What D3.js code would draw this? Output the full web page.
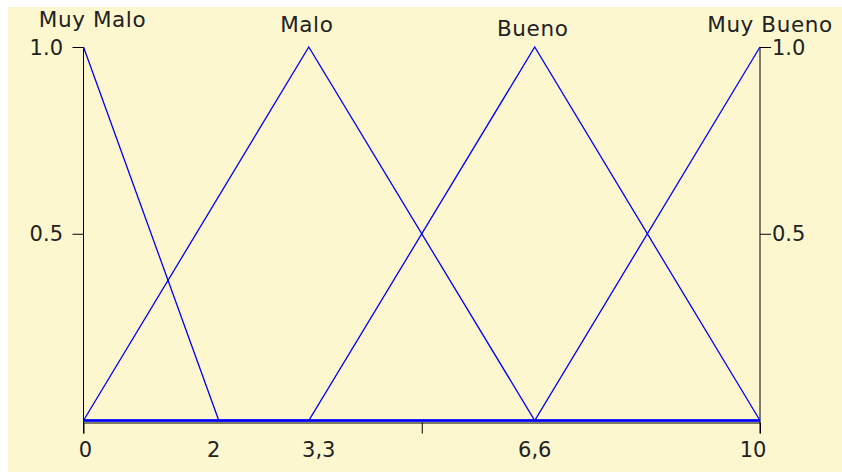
<!DOCTYPE html>
<html>
<head>
<meta charset="utf-8">
<script src="https://cdn.jsdelivr.net/npm/d3@7"></script>
<style>
  body { margin: 0; background: #fff; }
  svg text { font-family: "DejaVu Sans", sans-serif; fill: #222; }
</style>
</head>
<body>
<script>
// fuzzy sets: name + triangle corner points (x, membership)
var setNames = ["Muy Malo", "Malo", "Bueno", "Muy Bueno"];
var setPoints = [
  [[0, 1], [2, 0], [10, 0]],
  [[0, 0], [3.33, 1], [6.67, 0], [10, 0]],
  [[0, 0], [3.33, 0], [6.67, 1], [10, 0]],
  [[0, 0], [6.67, 0], [10, 1]]
];
var peaks = [0, 3.33, 6.67, 10];

var xTickValues = [0, 2, 3.33, 6.67, 10];
var xTickLabels = ["0", "2", "3,3", "6,6", "10"];
var yTickValues = [0.5, 1.0];
var yTickLabels = ["0.5", "1.0"];

var W = 842, H = 472;

var x = d3.scaleLinear().domain([0, 10]).range([83.5, 760]);
var y = d3.scaleLinear().domain([0, 1]).range([420.5, 47]);

var svg = d3.select("body").append("svg")
    .attr("width", W)
    .attr("height", H);

svg.append("rect")
    .attr("x", 8)
    .attr("y", 7)
    .attr("width", W - 8)
    .attr("height", H - 7)
    .style("fill", "#fdf7d0");

// axes
var xAxis = d3.axisBottom(x)
    .tickValues([5])
    .tickSize(11)
    .tickSizeOuter(11)
    .tickFormat("");

svg.append("g")
    .attr("transform", "translate(0,422.5)")
    .call(xAxis)
    .call(function(g) { g.selectAll("path, line").attr("stroke", "#000"); });

svg.append("g")
    .attr("transform", "translate(83.5,0)")
    .call(d3.axisLeft(y).tickValues(yTickValues).tickSize(11).tickSizeOuter(0).tickFormat(""))
    .call(function(g) { g.select(".domain").attr("d", "M0," + y(1) + "V433.5"); });

svg.append("g")
    .attr("transform", "translate(760,0)")
    .call(d3.axisRight(y).tickValues(yTickValues).tickSize(11).tickSizeOuter(0).tickFormat(""))
    .call(function(g) { g.select(".domain").attr("d", "M0," + y(1) + "V433.5"); });

svg.selectAll(".ylabL")
    .data(yTickValues)
  .enter().append("text")
    .attr("x", 63)
    .attr("y", function(d) { return y(d); })
    .attr("dy", "0.36em")
    .style("text-anchor", "end")
    .style("font-size", "21px")
    .text(function(d, i) { return yTickLabels[i]; });

svg.selectAll(".ylabR")
    .data(yTickValues)
  .enter().append("text")
    .attr("x", 772)
    .attr("y", function(d) { return y(d); })
    .attr("dy", "0.36em")
    .style("text-anchor", "start")
    .style("font-size", "21px")
    .text(function(d, i) { return yTickLabels[i]; });

var xLabOffset = [2, -5, 10, 0, -7];
svg.selectAll(".xlab")
    .data(xTickValues)
  .enter().append("text")
    .attr("x", function(d, i) { return x(d) + xLabOffset[i]; })
    .attr("y", 457)
    .style("text-anchor", "middle")
    .style("font-size", "21px")
    .text(function(d, i) { return xTickLabels[i]; });

// membership functions
var line = d3.line()
    .x(function(d) { return x(d[0]); })
    .y(function(d) { return y(d[1]); });

svg.selectAll(".mf")
    .data(setPoints)
  .enter().append("path")
    .attr("d", line)
    .style("fill", "none")
    .style("stroke", "#0000ff")
    .style("stroke-width", 1.3);

// thick zero line along bottom
svg.append("line")
    .attr("x1", x(0)).attr("x2", x(10))
    .attr("y1", y(0)).attr("y2", y(0))
    .style("stroke", "#0000ff")
    .style("stroke-width", 2.5);

// set names above peaks
var nameDx = [9, -2, -2, 10];
var nameY = [27, 32, 36, 32];
svg.selectAll(".name")
    .data(setNames)
  .enter().append("text")
    .attr("x", function(d, i) { return x(peaks[i]) + nameDx[i]; })
    .attr("y", function(d, i) { return nameY[i]; })
    .style("text-anchor", "middle")
    .style("font-size", "21.5px")
    .style("letter-spacing", "0.6px")
    .text(function(d) { return d; });
</script>
</body>
</html>
